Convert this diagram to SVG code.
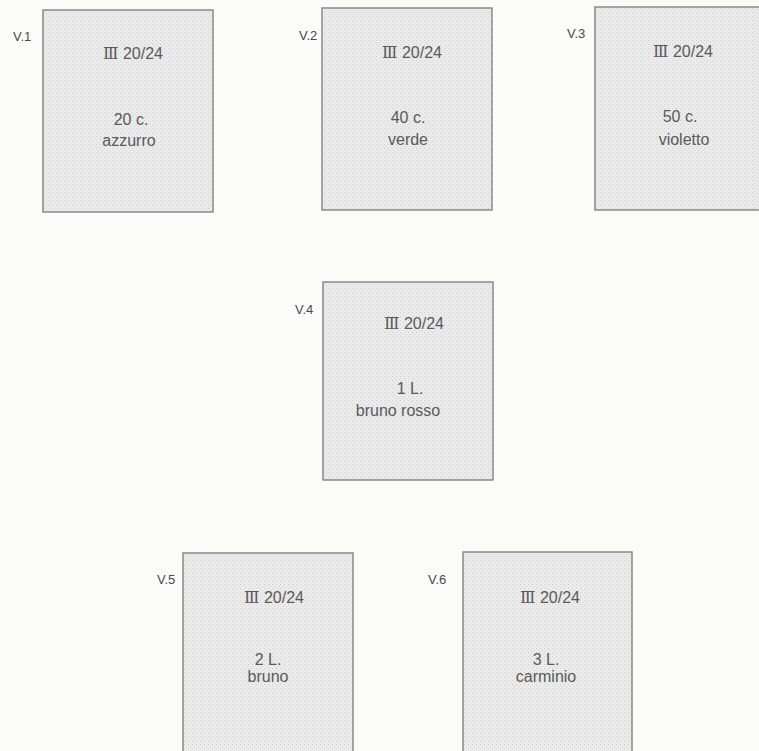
<svg xmlns="http://www.w3.org/2000/svg" width="759" height="751" viewBox="0 0 759 751">
<defs>
<pattern id="grid" width="4" height="4" patternUnits="userSpaceOnUse">
<rect width="4" height="4" fill="#ebebeb"/>
<rect x="0" y="0" width="1" height="1" fill="#cdcdcd"/>
<rect x="2" y="2" width="1" height="1" fill="#d4d4d4"/>
</pattern>
<style>
.box{fill:url(#grid);stroke:#8a8a8a;stroke-width:1.5}
.lbl{font-family:"Liberation Sans",Arial,sans-serif;font-size:13px;fill:#4a4a4a}
.t{font-family:"Liberation Sans","DejaVu Sans",sans-serif;font-size:16px;fill:#5a5a5a;text-anchor:middle}
.r{font-family:"DejaVu Serif","DejaVu Sans",serif;font-size:16px}
</style>
</defs>
<rect width="759" height="751" fill="#fbfbfa"/>
<g id="v1">
<text class="lbl" x="13" y="41">V.1</text>
<rect class="box" x="43" y="10" width="170" height="202"/>
<text class="t" x="133" y="59"><tspan class="r">Ⅲ</tspan> 20/24</text>
<text class="t" x="131" y="125">20 c.</text>
<text class="t" x="129" y="146">azzurro</text>
</g>
<g id="v2">
<text class="lbl" x="299" y="40">V.2</text>
<rect class="box" x="322" y="8" width="170" height="202"/>
<text class="t" x="412" y="58"><tspan class="r">Ⅲ</tspan> 20/24</text>
<text class="t" x="408" y="123">40 c.</text>
<text class="t" x="408" y="145">verde</text>
</g>
<g id="v3">
<text class="lbl" x="567" y="38">V.3</text>
<rect class="box" x="595" y="7" width="172" height="203"/>
<text class="t" x="683" y="57"><tspan class="r">Ⅲ</tspan> 20/24</text>
<text class="t" x="680" y="122">50 c.</text>
<text class="t" x="684" y="145">violetto</text>
</g>
<g id="v4">
<text class="lbl" x="295" y="314">V.4</text>
<rect class="box" x="323" y="282" width="170" height="198"/>
<text class="t" x="414" y="329"><tspan class="r">Ⅲ</tspan> 20/24</text>
<text class="t" x="410" y="394">1 L.</text>
<text class="t" x="398" y="416">bruno rosso</text>
</g>
<g id="v5">
<text class="lbl" x="157" y="584">V.5</text>
<rect class="box" x="183" y="553" width="170" height="205"/>
<text class="t" x="274" y="603"><tspan class="r">Ⅲ</tspan> 20/24</text>
<text class="t" x="268" y="665">2 L.</text>
<text class="t" x="268" y="682">bruno</text>
</g>
<g id="v6">
<text class="lbl" x="428" y="584">V.6</text>
<rect class="box" x="463" y="552" width="169" height="206"/>
<text class="t" x="550" y="603"><tspan class="r">Ⅲ</tspan> 20/24</text>
<text class="t" x="546" y="665">3 L.</text>
<text class="t" x="546" y="682">carminio</text>
</g>
<g id="connectors"></g>
</svg>
